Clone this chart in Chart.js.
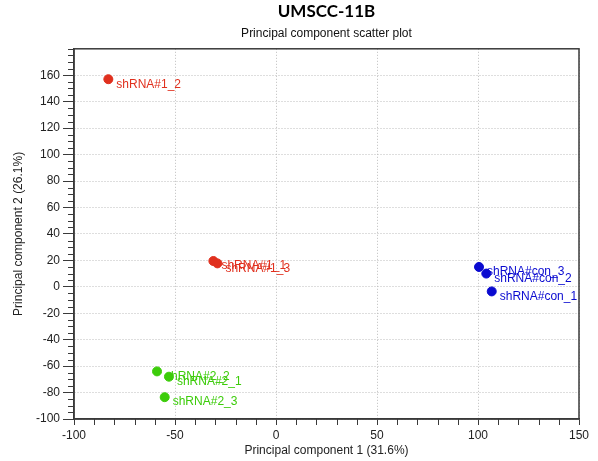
<!DOCTYPE html>
<html lang="en">
<head>
  <meta charset="UTF-8">
  <title>UMSCC-11B PCA</title>
  <script src="https://cdn.jsdelivr.net/npm/chart.js"></script>
  <style>
    body { margin: 0; background: #ffffff; }
    #pca { display: block; }
  </style>
</head>
<body>
  <canvas id="pca" width="598" height="461"></canvas>

  <script>
    // sample names and PC scores
    const sh1Names = ['shRNA#1_1', 'shRNA#1_2', 'shRNA#1_3'];
    const sh1PC1 = [-31, -83, -29];
    const sh1PC2 = [19.5, 157, 17.7];

    const sh2Names = ['shRNA#2_1', 'shRNA#2_2', 'shRNA#2_3'];
    const sh2PC1 = [-53, -58.9, -55.1];
    const sh2PC2 = [-68, -64, -83.5];

    const conNames = ['shRNA#con_1', 'shRNA#con_2', 'shRNA#con_3'];
    const conPC1 = [106.8, 104.1, 100.5];
    const conPC2 = [-3.5, 10, 15];

    const RED = '#e0301e';
    const GREEN = '#3ccc0a';
    const BLUE = '#0a0ad0';
    const AXIS = '#3a3a3a';

    function points(xs, ys) {
      return xs.map((x, i) => ({ x: x, y: ys[i] }));
    }

    // minor ticks + frame around the plot area
    const framePlugin = {
      id: 'frame',
      afterDraw(chart) {
        const { ctx, chartArea: a, scales } = chart;
        ctx.save();
        ctx.strokeStyle = AXIS;
        ctx.lineWidth = 1;
        ctx.beginPath();
        for (let v = -100; v <= 180; v += 5) {
          if (v % 20 === 0 && v <= 160) continue;
          const y = Math.round(scales.y.getPixelForValue(v)) + 0.5;
          ctx.moveTo(a.left - 6, y);
          ctx.lineTo(a.left, y);
        }
        for (let v = -100; v <= 150; v += 10) {
          if (v % 50 === 0) continue;
          const x = Math.round(scales.x.getPixelForValue(v)) + 0.5;
          ctx.moveTo(x, a.bottom);
          ctx.lineTo(x, a.bottom + 6);
        }
        ctx.stroke();
        ctx.lineWidth = 1.5;
        ctx.strokeRect(a.left, a.top, a.right - a.left, a.bottom - a.top);
        ctx.restore();
      }
    };

    // sample name next to each point
    const nameLabels = {
      id: 'nameLabels',
      afterDatasetsDraw(chart) {
        const ctx = chart.ctx;
        ctx.save();
        ctx.font = '12px "Liberation Sans", Arial, sans-serif';
        ctx.textBaseline = 'middle';
        ctx.textAlign = 'left';
        chart.data.datasets.forEach((ds, di) => {
          const meta = chart.getDatasetMeta(di);
          ctx.fillStyle = ds.backgroundColor;
          meta.data.forEach((pt, i) => {
            ctx.fillText(ds.names[i], pt.x + 8, pt.y + 5);
          });
        });
        ctx.restore();
      }
    };

    new Chart(document.getElementById('pca'), {
      type: 'scatter',
      data: {
        datasets: [
          {
            label: 'shRNA#1',
            names: sh1Names,
            data: points(sh1PC1, sh1PC2),
            backgroundColor: RED,
            borderColor: RED,
            pointRadius: 4.5
          },
          {
            label: 'shRNA#2',
            names: sh2Names,
            data: points(sh2PC1, sh2PC2),
            backgroundColor: GREEN,
            borderColor: GREEN,
            pointRadius: 4.5
          },
          {
            label: 'shRNA#con',
            names: conNames,
            data: points(conPC1, conPC2),
            backgroundColor: BLUE,
            borderColor: BLUE,
            pointRadius: 4.5
          }
        ]
      },
      options: {
        responsive: false,
        animation: false,
        layout: { padding: { left: 0, right: 19, top: 0, bottom: 0 } },
        plugins: {
          legend: { display: false },
          tooltip: { enabled: false },
          title: {
            display: true,
            fullSize: false,
            text: 'UMSCC-11B',
            color: '#000',
            font: { family: 'Lato, "Open Sans", sans-serif', size: 17, weight: 'bold' },
            padding: { top: 1, bottom: 5 }
          },
          subtitle: {
            display: true,
            fullSize: false,
            text: 'Principal component scatter plot',
            color: '#111',
            font: { family: '"Liberation Sans", Arial, sans-serif', size: 12 },
            padding: { top: 0, bottom: 8 }
          }
        },
        scales: {
          x: {
            type: 'linear',
            min: -100,
            max: 150,
            ticks: {
              stepSize: 50,
              color: '#222',
              padding: 3,
              maxRotation: 0,
              font: { family: '"Liberation Sans", Arial, sans-serif', size: 12 }
            },
            grid: {
              color: '#bdbdbd',
              tickColor: AXIS,
              tickLength: 6,
              tickBorderDash: []
            },
            border: { color: AXIS, width: 1.5, dash: [1, 2] },
            title: {
              display: true,
              text: 'Principal component 1 (31.6%)',
              color: '#222',
              font: { family: '"Liberation Sans", Arial, sans-serif', size: 12 },
              padding: { top: 0, bottom: 3 }
            },
            afterFit(scale) { scale.height = 42; }
          },
          y: {
            type: 'linear',
            min: -100,
            max: 180,
            afterBuildTicks(scale) {
              scale.ticks = scale.ticks.filter(t => t.value <= 160);
            },
            ticks: {
              stepSize: 20,
              color: '#222',
              padding: 3,
              font: { family: '"Liberation Sans", Arial, sans-serif', size: 12 }
            },
            grid: {
              color: '#bdbdbd',
              tickColor: AXIS,
              tickLength: 11,
              tickBorderDash: []
            },
            border: { color: AXIS, width: 1.5, dash: [1, 2] },
            title: {
              display: true,
              text: 'Principal component 2 (26.1%)',
              color: '#222',
              font: { family: '"Liberation Sans", Arial, sans-serif', size: 12 },
              padding: { top: 11, bottom: 0 }
            },
            afterFit(scale) { scale.width = 74; }
          }
        }
      },
      plugins: [framePlugin, nameLabels]
    });
  </script>
</body>
</html>
